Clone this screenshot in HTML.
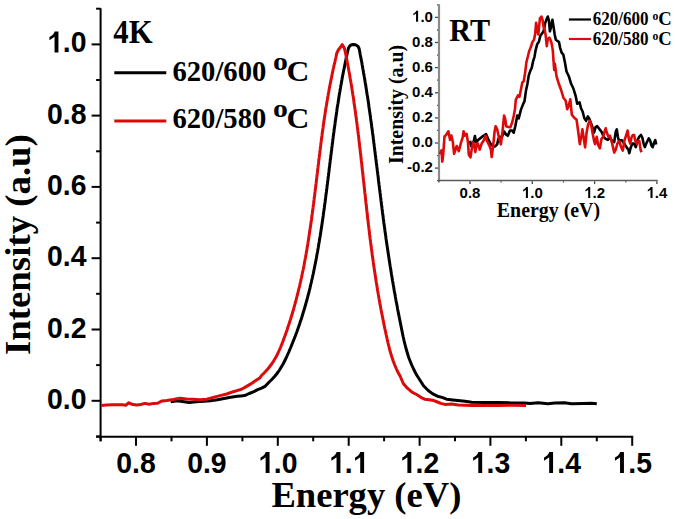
<!DOCTYPE html>
<html><head><meta charset="utf-8"><title>PL spectra</title>
<style>
html,body{margin:0;padding:0;background:#fff;}
body{width:675px;height:519px;overflow:hidden;font-family:"Liberation Sans",sans-serif;}
svg{display:block;}
</style></head><body>
<svg width="675" height="519" viewBox="0 0 675 519">
<rect width="675" height="519" fill="#fff"/>
<g stroke="#000" stroke-width="2.0" fill="none" stroke-linecap="butt">
<line x1="100.6" y1="8.2" x2="100.6" y2="441.3"/>
<line x1="96.1" y1="436.8" x2="633.2" y2="436.8"/>
<line x1="96.1" y1="436.4" x2="100.6" y2="436.4"/>
<line x1="91.6" y1="400.8" x2="100.6" y2="400.8"/>
<line x1="96.1" y1="365.1" x2="100.6" y2="365.1"/>
<line x1="91.6" y1="329.5" x2="100.6" y2="329.5"/>
<line x1="96.1" y1="293.8" x2="100.6" y2="293.8"/>
<line x1="91.6" y1="258.2" x2="100.6" y2="258.2"/>
<line x1="96.1" y1="222.6" x2="100.6" y2="222.6"/>
<line x1="91.6" y1="186.9" x2="100.6" y2="186.9"/>
<line x1="96.1" y1="151.3" x2="100.6" y2="151.3"/>
<line x1="91.6" y1="115.6" x2="100.6" y2="115.6"/>
<line x1="96.1" y1="80.0" x2="100.6" y2="80.0"/>
<line x1="91.6" y1="44.4" x2="100.6" y2="44.4"/>
<line x1="96.1" y1="8.7" x2="100.6" y2="8.7"/>
<line x1="100.6" y1="436.8" x2="100.6" y2="441.3"/>
<line x1="136.0" y1="436.8" x2="136.0" y2="445.8"/>
<line x1="171.5" y1="436.8" x2="171.5" y2="441.3"/>
<line x1="206.9" y1="436.8" x2="206.9" y2="445.8"/>
<line x1="242.4" y1="436.8" x2="242.4" y2="441.3"/>
<line x1="277.8" y1="436.8" x2="277.8" y2="445.8"/>
<line x1="313.2" y1="436.8" x2="313.2" y2="441.3"/>
<line x1="348.7" y1="436.8" x2="348.7" y2="445.8"/>
<line x1="384.1" y1="436.8" x2="384.1" y2="441.3"/>
<line x1="419.6" y1="436.8" x2="419.6" y2="445.8"/>
<line x1="455.0" y1="436.8" x2="455.0" y2="441.3"/>
<line x1="490.4" y1="436.8" x2="490.4" y2="445.8"/>
<line x1="525.9" y1="436.8" x2="525.9" y2="441.3"/>
<line x1="561.3" y1="436.8" x2="561.3" y2="445.8"/>
<line x1="596.8" y1="436.8" x2="596.8" y2="441.3"/>
<line x1="632.2" y1="436.8" x2="632.2" y2="445.8"/>
</g>
<text transform="translate(46.96,408.79) scale(0.9759,1)" font-family="Liberation Sans, sans-serif" font-weight="bold" font-size="29.10">0.0</text>
<text transform="translate(46.96,337.51) scale(0.9759,1)" font-family="Liberation Sans, sans-serif" font-weight="bold" font-size="29.10">0.2</text>
<text transform="translate(46.96,266.23) scale(0.9759,1)" font-family="Liberation Sans, sans-serif" font-weight="bold" font-size="29.10">0.4</text>
<text transform="translate(46.96,194.95) scale(0.9759,1)" font-family="Liberation Sans, sans-serif" font-weight="bold" font-size="29.10">0.6</text>
<text transform="translate(46.96,123.67) scale(0.9759,1)" font-family="Liberation Sans, sans-serif" font-weight="bold" font-size="29.10">0.8</text>
<path d="M828 0L547 0L547 1096Q385 960 177 858L177 1081Q315 1140 415 1240Q515 1340 555 1466L828 1466Z" transform="translate(46.96,52.39) scale(0.01387,-0.01421)"/><text transform="translate(62.75,52.39) scale(0.9759,1)" font-family="Liberation Sans, sans-serif" font-weight="bold" font-size="29.10">.0</text>
<text transform="translate(116.30,472.90) scale(0.9759,1)" font-family="Liberation Sans, sans-serif" font-weight="bold" font-size="29.10">0.8</text>
<text transform="translate(187.18,472.90) scale(0.9759,1)" font-family="Liberation Sans, sans-serif" font-weight="bold" font-size="29.10">0.9</text>
<path d="M828 0L547 0L547 1096Q385 960 177 858L177 1081Q315 1140 415 1240Q515 1340 555 1466L828 1466Z" transform="translate(258.06,472.90) scale(0.01387,-0.01421)"/><text transform="translate(273.85,472.90) scale(0.9759,1)" font-family="Liberation Sans, sans-serif" font-weight="bold" font-size="29.10">.0</text>
<path d="M828 0L547 0L547 1096Q385 960 177 858L177 1081Q315 1140 415 1240Q515 1340 555 1466L828 1466Z" transform="translate(328.94,472.90) scale(0.01387,-0.01421)"/><text transform="translate(344.73,472.90) scale(0.9759,1)" font-family="Liberation Sans, sans-serif" font-weight="bold" font-size="29.10">.</text><path d="M828 0L547 0L547 1096Q385 960 177 858L177 1081Q315 1140 415 1240Q515 1340 555 1466L828 1466Z" transform="translate(352.63,472.90) scale(0.01387,-0.01421)"/>
<path d="M828 0L547 0L547 1096Q385 960 177 858L177 1081Q315 1140 415 1240Q515 1340 555 1466L828 1466Z" transform="translate(399.82,472.90) scale(0.01387,-0.01421)"/><text transform="translate(415.61,472.90) scale(0.9759,1)" font-family="Liberation Sans, sans-serif" font-weight="bold" font-size="29.10">.2</text>
<path d="M828 0L547 0L547 1096Q385 960 177 858L177 1081Q315 1140 415 1240Q515 1340 555 1466L828 1466Z" transform="translate(470.70,472.90) scale(0.01387,-0.01421)"/><text transform="translate(486.49,472.90) scale(0.9759,1)" font-family="Liberation Sans, sans-serif" font-weight="bold" font-size="29.10">.3</text>
<path d="M828 0L547 0L547 1096Q385 960 177 858L177 1081Q315 1140 415 1240Q515 1340 555 1466L828 1466Z" transform="translate(541.58,472.90) scale(0.01387,-0.01421)"/><text transform="translate(557.37,472.90) scale(0.9759,1)" font-family="Liberation Sans, sans-serif" font-weight="bold" font-size="29.10">.4</text>
<path d="M828 0L547 0L547 1096Q385 960 177 858L177 1081Q315 1140 415 1240Q515 1340 555 1466L828 1466Z" transform="translate(612.46,472.90) scale(0.01387,-0.01421)"/><text transform="translate(628.25,472.90) scale(0.9759,1)" font-family="Liberation Sans, sans-serif" font-weight="bold" font-size="29.10">.5</text>
<text transform="translate(271.40,506.90)" font-family="Liberation Serif, serif" font-weight="bold" font-size="36.60">Energy (eV)</text>
<text transform="translate(30.20,355.00) rotate(-90)" font-family="Liberation Serif, serif" font-weight="bold" font-size="36.80">Intensity (a.u)</text>
<text transform="translate(113.34,42.90) scale(0.9370,1)" font-family="Liberation Serif, serif" font-weight="bold" font-size="32.82">4K</text>
<text transform="translate(172.50,80.71) scale(0.9754,1)" font-family="Liberation Serif, serif" font-weight="bold" font-size="29.33">620/600</text>
<text transform="translate(272.91,69.54) scale(1.1429,1)" font-family="Liberation Serif, serif" font-weight="bold" font-size="26.04">o</text>
<text transform="translate(286.42,80.60) scale(1.0692,1)" font-family="Liberation Serif, serif" font-weight="bold" font-size="29.55">C</text>
<text transform="translate(172.50,128.41) scale(0.9754,1)" font-family="Liberation Serif, serif" font-weight="bold" font-size="29.33">620/580</text>
<text transform="translate(272.91,117.24) scale(1.1429,1)" font-family="Liberation Serif, serif" font-weight="bold" font-size="26.04">o</text>
<text transform="translate(286.42,128.30) scale(1.0692,1)" font-family="Liberation Serif, serif" font-weight="bold" font-size="29.55">C</text>
<line x1="114.3" y1="72.8" x2="166.3" y2="72.8" stroke="#000" stroke-width="3"/>
<line x1="114.3" y1="120.9" x2="166.3" y2="120.9" stroke="#dc0a0a" stroke-width="3"/>
<polyline points="170.7,401.8 177.3,400.8 184.0,401.8 189.3,402.5 196.0,401.8 204.0,401.2 210.7,400.8 217.3,399.8 224.0,398.5 230.7,397.2 237.3,396.2 240.8,395.9 244.6,395.6 249.2,393.5 253.9,391.6 257.7,389.7 261.6,388.1 265.4,386.1 269.2,382.0 271.3,380.0 273.2,378.0 275.0,376.0 276.6,374.0 278.1,372.0 279.5,370.0 280.7,368.0 281.9,366.0 283.1,364.0 284.1,362.0 285.1,360.0 286.1,358.0 287.0,356.0 287.9,354.0 288.8,352.0 289.6,350.0 290.5,348.0 291.3,346.0 292.1,344.0 292.9,342.0 293.7,340.0 294.5,338.0 295.3,336.0 296.0,334.0 296.8,332.0 297.5,330.0 298.2,328.0 298.9,326.0 299.6,324.0 300.2,322.0 300.9,320.0 301.6,318.0 302.2,316.0 302.8,314.0 303.4,312.0 304.0,310.0 304.6,308.0 305.2,306.0 305.8,304.0 306.3,302.0 306.9,300.0 307.4,298.0 307.9,296.0 308.5,294.0 309.0,292.0 309.5,290.0 310.0,288.0 310.4,286.0 310.9,284.0 311.4,282.0 311.8,280.0 312.3,278.0 312.7,276.0 313.2,274.0 313.6,272.0 314.0,270.0 314.4,268.0 314.8,266.0 315.2,264.0 315.6,262.0 316.0,260.0 316.4,258.0 316.7,256.0 317.1,254.0 317.5,252.0 317.8,250.0 318.2,248.0 318.5,246.0 318.8,244.0 319.2,242.0 319.5,240.0 319.8,238.0 320.2,236.0 320.5,234.0 320.8,232.0 321.1,230.0 321.4,228.0 321.7,226.0 322.0,224.0 322.3,222.0 322.6,220.0 322.9,218.0 323.2,216.0 323.4,214.0 323.7,212.0 324.0,210.0 324.3,208.0 324.5,206.0 324.8,204.0 325.1,202.0 325.3,200.0 325.6,198.0 325.8,196.0 326.1,194.0 326.4,192.0 326.6,190.0 326.9,188.0 327.1,186.0 327.4,184.0 327.6,182.0 327.9,180.0 328.1,178.0 328.4,176.0 328.6,174.0 328.9,172.0 329.1,170.0 329.3,168.0 329.6,166.0 329.8,164.0 330.1,162.0 330.3,160.0 330.6,158.0 330.8,156.0 331.1,154.0 331.3,152.0 331.6,150.0 331.8,148.0 332.1,146.0 332.3,144.0 332.6,142.0 332.8,140.0 333.1,138.0 333.3,136.0 333.6,134.0 333.9,132.0 334.1,130.0 334.4,128.0 334.7,126.0 335.0,124.0 335.2,122.0 335.5,120.0 335.8,118.0 336.1,116.0 336.4,114.0 336.7,112.0 336.9,110.0 337.2,108.0 337.5,106.0 337.9,104.0 338.2,102.0 338.5,100.0 338.8,98.0 339.1,96.0 339.4,94.0 339.8,92.0 340.1,90.0 340.5,88.0 340.8,86.0 341.2,84.0 341.5,82.0 341.9,80.0 342.2,78.0 342.6,76.0 343.0,74.0 343.4,72.0 343.8,70.0 344.2,68.0 344.6,66.0 345.0,64.0 345.4,62.0 345.8,60.0 346.2,58.0 346.7,56.0 347.1,54.0 347.6,52.0 348.0,50.0 348.5,48.0 349.6,46.2 351.0,45.0 353.0,44.5 355.5,44.8 357.9,46.2 359.1,48.5 359.5,50.5 359.9,52.5 360.2,54.5 360.6,56.5 361.0,58.5 361.4,60.5 361.8,62.5 362.1,64.5 362.5,66.5 362.8,68.5 363.2,70.5 363.5,72.5 363.9,74.5 364.2,76.5 364.6,78.5 364.9,80.5 365.2,82.5 365.6,84.5 365.9,86.5 366.2,88.5 366.5,90.5 366.8,92.5 367.1,94.5 367.5,96.5 367.8,98.5 368.1,100.5 368.4,102.5 368.7,104.5 368.9,106.5 369.2,108.5 369.5,110.5 369.8,112.5 370.1,114.5 370.4,116.5 370.6,118.5 370.9,120.5 371.2,122.5 371.5,124.5 371.7,126.5 372.0,128.5 372.3,130.5 372.5,132.5 372.8,134.5 373.1,136.5 373.3,138.5 373.6,140.5 373.8,142.5 374.1,144.5 374.3,146.5 374.6,148.5 374.8,150.5 375.1,152.5 375.3,154.5 375.6,156.5 375.8,158.5 376.1,160.5 376.3,162.5 376.6,164.5 376.8,166.5 377.1,168.5 377.3,170.5 377.6,172.5 377.8,174.5 378.1,176.5 378.3,178.5 378.5,180.5 378.8,182.5 379.0,184.5 379.3,186.5 379.5,188.5 379.8,190.5 380.0,192.5 380.3,194.5 380.5,196.5 380.8,198.5 381.0,200.5 381.3,202.5 381.5,204.5 381.8,206.5 382.0,208.5 382.3,210.5 382.5,212.5 382.8,214.5 383.1,216.5 383.3,218.5 383.6,220.5 383.8,222.5 384.1,224.5 384.4,226.5 384.7,228.5 384.9,230.5 385.2,232.5 385.5,234.5 385.8,236.5 386.0,238.5 386.3,240.5 386.6,242.5 386.9,244.5 387.2,246.5 387.5,248.5 387.8,250.5 388.1,252.5 388.4,254.5 388.7,256.5 389.0,258.5 389.3,260.5 389.6,262.5 389.9,264.5 390.2,266.5 390.6,268.5 390.9,270.5 391.2,272.5 391.5,274.5 391.9,276.5 392.2,278.5 392.5,280.5 392.9,282.5 393.2,284.5 393.6,286.5 393.9,288.5 394.2,290.5 394.6,292.5 395.0,294.5 395.3,296.5 395.7,298.5 396.0,300.5 396.4,302.5 396.8,304.5 397.2,306.5 397.5,308.5 397.9,310.5 398.3,312.5 398.7,314.5 399.1,316.5 399.5,318.5 399.9,320.5 400.3,322.5 400.7,324.5 401.1,326.5 401.5,328.5 401.9,330.5 402.3,332.5 402.7,334.5 403.1,336.5 403.6,338.5 404.0,340.5 404.5,342.5 405.0,344.5 405.5,346.5 406.0,348.5 406.6,350.5 407.2,352.5 407.8,354.5 408.4,356.5 409.1,358.5 409.9,360.5 410.7,362.5 411.5,364.5 412.4,366.5 413.3,368.5 414.3,370.5 415.3,372.5 416.4,374.5 417.6,376.5 418.9,378.5 420.2,380.5 423.5,385.8 428.2,390.5 432.8,393.9 437.4,396.2 442.0,397.4 446.6,399.2 453.0,399.9 465.0,401.3 471.7,402.2 485.0,402.6 498.3,402.6 511.7,402.9 525.0,402.9 530.0,403.4 538.3,402.7 547.8,403.7 554.9,402.9 564.4,402.8 571.5,403.7 583.3,403.4 591.6,403.3 596.8,403.7" fill="none" stroke="#000" stroke-width="3" stroke-linejoin="round"/>
<polyline points="101.2,405.5 106.5,405.0 111.9,404.7 117.2,404.7 122.5,404.7 125.7,405.3 128.9,402.8 132.1,404.3 136.4,404.9 140.7,404.5 144.9,403.4 149.2,404.2 153.5,403.4 157.7,403.2 162.0,400.9 166.7,400.6 173.3,399.5 180.0,398.2 186.7,398.9 193.3,399.2 200.0,399.7 206.7,399.2 213.3,397.4 220.0,395.6 226.7,394.0 233.3,391.7 237.0,390.6 241.5,389.3 246.2,386.6 250.8,383.9 255.4,380.8 260.0,377.7 261.5,375.5 263.6,373.5 265.5,371.5 267.3,369.5 269.0,367.5 270.5,365.5 272.0,363.5 273.3,361.5 274.5,359.5 275.7,357.5 276.8,355.5 277.8,353.5 278.7,351.5 279.6,349.5 280.5,347.5 281.3,345.5 282.1,343.5 282.9,341.5 283.6,339.5 284.3,337.5 285.1,335.5 285.8,333.5 286.5,331.5 287.2,329.5 287.8,327.5 288.5,325.5 289.2,323.5 289.8,321.5 290.5,319.5 291.1,317.5 291.7,315.5 292.3,313.5 292.9,311.5 293.5,309.5 294.0,307.5 294.6,305.5 295.1,303.5 295.7,301.5 296.2,299.5 296.7,297.5 297.2,295.5 297.8,293.5 298.2,291.5 298.7,289.5 299.2,287.5 299.7,285.5 300.1,283.5 300.6,281.5 301.0,279.5 301.5,277.5 301.9,275.5 302.3,273.5 302.7,271.5 303.2,269.5 303.6,267.5 304.0,265.5 304.3,263.5 304.7,261.5 305.1,259.5 305.5,257.5 305.8,255.5 306.2,253.5 306.5,251.5 306.9,249.5 307.2,247.5 307.5,245.5 307.9,243.5 308.2,241.5 308.5,239.5 308.8,237.5 309.1,235.5 309.4,233.5 309.7,231.5 310.0,229.5 310.3,227.5 310.6,225.5 310.9,223.5 311.2,221.5 311.5,219.5 311.7,217.5 312.0,215.5 312.3,213.5 312.5,211.5 312.8,209.5 313.1,207.5 313.3,205.5 313.6,203.5 313.8,201.5 314.1,199.5 314.3,197.5 314.6,195.5 314.8,193.5 315.1,191.5 315.3,189.5 315.6,187.5 315.8,185.5 316.1,183.5 316.3,181.5 316.5,179.5 316.8,177.5 317.0,175.5 317.3,173.5 317.5,171.5 317.7,169.5 318.0,167.5 318.2,165.5 318.5,163.5 318.7,161.5 318.9,159.5 319.2,157.5 319.4,155.5 319.7,153.5 319.9,151.5 320.2,149.5 320.4,147.5 320.7,145.5 320.9,143.5 321.2,141.5 321.4,139.5 321.7,137.5 322.0,135.5 322.2,133.5 322.5,131.5 322.8,129.5 323.1,127.5 323.3,125.5 323.6,123.5 323.9,121.5 324.2,119.5 324.5,117.5 324.8,115.5 325.1,113.5 325.4,111.5 325.7,109.5 326.0,107.5 326.4,105.5 326.7,103.5 327.0,101.5 327.4,99.5 327.7,97.5 328.1,95.5 328.4,93.5 328.8,91.5 329.1,89.5 329.5,87.5 329.9,85.5 330.3,83.5 330.7,81.5 331.1,79.5 331.5,77.5 331.9,75.5 332.3,73.5 332.7,71.5 333.1,69.5 333.6,67.5 334.0,65.5 334.5,63.5 335.0,61.5 335.4,59.5 335.9,57.5 336.7,53.3 338.3,50.0 340.3,47.3 342.2,44.7 343.3,46.3 344.5,48.5 344.9,50.5 345.4,52.5 345.8,54.5 346.2,56.5 346.6,58.5 347.0,60.5 347.3,62.5 347.7,64.5 348.1,66.5 348.5,68.5 348.8,70.5 349.2,72.5 349.6,74.5 349.9,76.5 350.2,78.5 350.6,80.5 350.9,82.5 351.3,84.5 351.6,86.5 351.9,88.5 352.2,90.5 352.5,92.5 352.8,94.5 353.2,96.5 353.5,98.5 353.8,100.5 354.0,102.5 354.3,104.5 354.6,106.5 354.9,108.5 355.2,110.5 355.5,112.5 355.7,114.5 356.0,116.5 356.3,118.5 356.5,120.5 356.8,122.5 357.1,124.5 357.3,126.5 357.6,128.5 357.8,130.5 358.1,132.5 358.3,134.5 358.6,136.5 358.8,138.5 359.0,140.5 359.3,142.5 359.5,144.5 359.7,146.5 360.0,148.5 360.2,150.5 360.4,152.5 360.7,154.5 360.9,156.5 361.1,158.5 361.3,160.5 361.6,162.5 361.8,164.5 362.0,166.5 362.2,168.5 362.4,170.5 362.7,172.5 362.9,174.5 363.1,176.5 363.3,178.5 363.5,180.5 363.8,182.5 364.0,184.5 364.2,186.5 364.4,188.5 364.6,190.5 364.8,192.5 365.1,194.5 365.3,196.5 365.5,198.5 365.7,200.5 365.9,202.5 366.2,204.5 366.4,206.5 366.6,208.5 366.8,210.5 367.1,212.5 367.3,214.5 367.5,216.5 367.7,218.5 368.0,220.5 368.2,222.5 368.4,224.5 368.7,226.5 368.9,228.5 369.2,230.5 369.4,232.5 369.6,234.5 369.9,236.5 370.1,238.5 370.4,240.5 370.6,242.5 370.9,244.5 371.2,246.5 371.4,248.5 371.7,250.5 372.0,252.5 372.2,254.5 372.5,256.5 372.8,258.5 373.1,260.5 373.3,262.5 373.6,264.5 373.9,266.5 374.2,268.5 374.5,270.5 374.8,272.5 375.1,274.5 375.4,276.5 375.7,278.5 376.0,280.5 376.3,282.5 376.7,284.5 377.0,286.5 377.3,288.5 377.6,290.5 378.0,292.5 378.3,294.5 378.7,296.5 379.0,298.5 379.4,300.5 379.7,302.5 380.1,304.5 380.5,306.5 380.8,308.5 381.2,310.5 381.6,312.5 382.0,314.5 382.4,316.5 382.8,318.5 383.2,320.5 383.6,322.5 384.0,324.5 384.4,326.5 384.8,328.5 385.3,330.5 385.7,332.5 386.1,334.5 386.6,336.5 387.0,338.5 387.5,340.5 387.9,342.5 388.4,344.5 388.9,346.5 389.4,348.5 389.9,350.5 390.5,352.5 391.1,354.5 391.7,356.5 392.4,358.5 393.0,360.5 393.8,362.5 394.5,364.5 395.4,366.5 396.2,368.5 397.1,370.5 398.1,372.5 399.2,374.5 400.3,376.5 403.3,383.5 407.3,388.2 412.0,392.2 416.6,394.5 421.2,397.6 424.7,399.2 429.3,399.8 433.9,400.6 437.4,402.0 440.9,403.4 444.9,404.4 451.7,404.1 458.3,404.9 471.7,405.5 485.0,405.5 498.3,405.5 511.7,405.3 526.0,405.4" fill="none" stroke="#dc0a0a" stroke-width="3" stroke-linejoin="round"/>
<line x1="439.0" y1="4.2" x2="439.0" y2="181.5" stroke="#8a8a8a" stroke-width="2.2"/>
<line x1="437.9" y1="180.55" x2="657.7" y2="180.55" stroke="#5a5a5a" stroke-width="1.6"/>
<g stroke="#444" stroke-width="1.3" fill="none">
<line x1="437.0" y1="180.7" x2="437.9" y2="180.7"/>
<line x1="435.0" y1="168.1" x2="437.9" y2="168.1"/>
<line x1="437.0" y1="155.6" x2="437.9" y2="155.6"/>
<line x1="435.0" y1="143.0" x2="437.9" y2="143.0"/>
<line x1="437.0" y1="130.4" x2="437.9" y2="130.4"/>
<line x1="435.0" y1="117.9" x2="437.9" y2="117.9"/>
<line x1="437.0" y1="105.3" x2="437.9" y2="105.3"/>
<line x1="435.0" y1="92.8" x2="437.9" y2="92.8"/>
<line x1="437.0" y1="80.2" x2="437.9" y2="80.2"/>
<line x1="435.0" y1="67.6" x2="437.9" y2="67.6"/>
<line x1="437.0" y1="55.1" x2="437.9" y2="55.1"/>
<line x1="435.0" y1="42.5" x2="437.9" y2="42.5"/>
<line x1="437.0" y1="30.0" x2="437.9" y2="30.0"/>
<line x1="435.0" y1="17.4" x2="437.9" y2="17.4"/>
<line x1="437.0" y1="4.8" x2="437.9" y2="4.8"/>
<line x1="438.9" y1="181.3" x2="438.9" y2="182.6"/>
<line x1="470.0" y1="181.3" x2="470.0" y2="184.1"/>
<line x1="501.1" y1="181.3" x2="501.1" y2="182.6"/>
<line x1="532.3" y1="181.3" x2="532.3" y2="184.1"/>
<line x1="563.5" y1="181.3" x2="563.5" y2="182.6"/>
<line x1="594.6" y1="181.3" x2="594.6" y2="184.1"/>
<line x1="625.8" y1="181.3" x2="625.8" y2="182.6"/>
<line x1="656.9" y1="181.3" x2="656.9" y2="184.1"/>
</g>
<text transform="translate(407.06,172.43) scale(0.9740,1)" font-family="Liberation Sans, sans-serif" font-weight="bold" font-size="15.40">-0.2</text>
<text transform="translate(412.05,147.31) scale(0.9740,1)" font-family="Liberation Sans, sans-serif" font-weight="bold" font-size="15.40">0.0</text>
<text transform="translate(412.05,122.19) scale(0.9740,1)" font-family="Liberation Sans, sans-serif" font-weight="bold" font-size="15.40">0.2</text>
<text transform="translate(412.05,97.07) scale(0.9740,1)" font-family="Liberation Sans, sans-serif" font-weight="bold" font-size="15.40">0.4</text>
<text transform="translate(412.05,71.95) scale(0.9740,1)" font-family="Liberation Sans, sans-serif" font-weight="bold" font-size="15.40">0.6</text>
<text transform="translate(412.05,46.83) scale(0.9740,1)" font-family="Liberation Sans, sans-serif" font-weight="bold" font-size="15.40">0.8</text>
<path d="M828 0L547 0L547 1096Q385 960 177 858L177 1081Q315 1140 415 1240Q515 1340 555 1466L828 1466Z" transform="translate(412.05,21.71) scale(0.00732,-0.00752)"/><text transform="translate(420.39,21.71) scale(0.9740,1)" font-family="Liberation Sans, sans-serif" font-weight="bold" font-size="15.40">.0</text>
<text transform="translate(459.58,197.90) scale(0.9740,1)" font-family="Liberation Sans, sans-serif" font-weight="bold" font-size="15.40">0.8</text>
<path d="M828 0L547 0L547 1096Q385 960 177 858L177 1081Q315 1140 415 1240Q515 1340 555 1466L828 1466Z" transform="translate(521.88,197.90) scale(0.00732,-0.00752)"/><text transform="translate(530.22,197.90) scale(0.9740,1)" font-family="Liberation Sans, sans-serif" font-weight="bold" font-size="15.40">.0</text>
<path d="M828 0L547 0L547 1096Q385 960 177 858L177 1081Q315 1140 415 1240Q515 1340 555 1466L828 1466Z" transform="translate(584.18,197.90) scale(0.00732,-0.00752)"/><text transform="translate(592.52,197.90) scale(0.9740,1)" font-family="Liberation Sans, sans-serif" font-weight="bold" font-size="15.40">.2</text>
<path d="M828 0L547 0L547 1096Q385 960 177 858L177 1081Q315 1140 415 1240Q515 1340 555 1466L828 1466Z" transform="translate(646.48,197.90) scale(0.00732,-0.00752)"/><text transform="translate(654.82,197.90) scale(0.9740,1)" font-family="Liberation Sans, sans-serif" font-weight="bold" font-size="15.40">.4</text>
<text transform="translate(496.80,216.50) scale(0.9755,1)" font-family="Liberation Serif, serif" font-weight="bold" font-size="20.40">Energy (eV)</text>
<text transform="translate(402.90,164.00) rotate(-90) scale(0.9707,1)" font-family="Liberation Serif, serif" font-weight="bold" font-size="20.45">Intensity (a.u)</text>
<text transform="translate(449.15,40.70) scale(0.9434,1)" font-family="Liberation Serif, serif" font-weight="bold" font-size="32.00">RT</text>
<text transform="translate(592.70,25.22) scale(0.9521,1)" font-family="Liberation Serif, serif" font-weight="bold" font-size="17.93">620/600</text>
<text transform="translate(652.53,20.29) scale(1.0182,1)" font-family="Liberation Serif, serif" font-weight="bold" font-size="11.46">o</text>
<text transform="translate(658.27,25.22) scale(1.0245,1)" font-family="Liberation Serif, serif" font-weight="bold" font-size="18.21">C</text>
<text transform="translate(592.70,45.12) scale(0.9521,1)" font-family="Liberation Serif, serif" font-weight="bold" font-size="17.93">620/580</text>
<text transform="translate(652.53,40.19) scale(1.0182,1)" font-family="Liberation Serif, serif" font-weight="bold" font-size="11.46">o</text>
<text transform="translate(658.27,45.12) scale(1.0245,1)" font-family="Liberation Serif, serif" font-weight="bold" font-size="18.21">C</text>
<line x1="568.9" y1="19.5" x2="591" y2="19.5" stroke="#000" stroke-width="2.2"/>
<line x1="568.9" y1="39" x2="591" y2="39" stroke="#dc0a0a" stroke-width="2.2"/>
<polyline points="470.1,140.8 471.0,146.0 472.3,144.3 473.6,141.7 474.9,136.1 476.2,142.6 478.1,140.0 480.8,137.9 483.4,135.8 486.1,134.2 488.2,139.0 490.9,144.3 493.0,146.4 495.1,146.4 497.2,144.3 498.3,139.0 499.9,136.8 502.0,136.8 504.1,131.5 506.2,134.7 507.8,135.8 510.0,130.5 512.1,130.5 513.7,132.6 515.3,126.2 517.3,115.6 518.7,118.5 520.9,109.9 523.1,104.1 524.5,101.2 525.9,91.1 527.4,83.9 528.8,75.2 530.3,70.9 531.7,68.0 533.2,60.8 534.5,56.8 535.6,50.4 537.2,44.1 538.8,42.0 540.4,35.6 542.0,33.5 543.6,31.3 545.2,22.9 546.8,18.6 547.8,16.5 548.9,20.7 549.9,31.3 551.0,27.1 552.4,19.7 553.6,27.1 554.7,34.5 555.8,39.8 557.4,40.9 559.0,42.0 560.0,47.3 561.6,52.6 563.3,54.6 564.9,62.3 566.5,71.5 568.8,76.2 571.1,83.8 573.4,88.5 575.7,96.2 577.2,103.8 579.5,102.3 581.1,108.5 582.6,111.5 584.3,118.0 586.1,120.9 587.8,116.4 589.3,118.8 590.9,123.0 592.5,127.2 594.1,132.5 595.6,127.2 597.2,126.2 598.8,128.3 600.4,130.4 602.0,132.5 603.6,136.8 605.7,138.9 607.8,139.9 610.0,137.8 612.1,141.0 614.2,142.1 615.8,131.5 616.8,129.4 617.9,136.8 618.9,141.0 620.6,140.2 621.9,140.2 623.7,142.8 625.4,145.4 627.1,148.0 628.4,149.7 629.3,153.2 630.6,148.0 632.3,143.6 634.1,143.6 635.8,147.1 637.5,140.2 639.3,136.7 641.0,135.0 642.3,137.5 643.6,143.6 644.9,147.1 646.2,143.6 647.5,141.0 648.8,138.4 650.1,140.2 651.4,145.4 652.7,147.1 654.0,142.8 655.3,140.2 656.2,144.5" fill="none" stroke="#000" stroke-width="2.6" stroke-linejoin="round"/>
<polyline points="439.4,152.5 440.2,153.0 441.5,150.4 442.3,161.6 443.2,154.7 444.5,136.5 446.2,134.8 448.4,131.3 450.1,140.0 451.4,135.6 452.8,141.7 454.1,153.8 456.7,146.0 458.8,151.2 461.0,142.6 462.7,137.4 463.6,131.3 464.9,135.6 466.6,133.9 467.9,141.7 468.8,154.7 470.5,157.3 471.8,148.6 473.1,142.6 474.4,146.0 475.3,152.1 476.6,144.3 477.6,143.2 479.7,149.6 481.8,143.2 484.0,140.0 485.5,135.8 487.1,141.1 489.3,145.3 490.9,149.6 491.7,157.0 493.0,147.4 494.6,131.5 495.6,126.2 497.2,129.4 498.8,136.8 500.9,144.3 502.5,131.5 504.1,115.6 505.2,118.8 506.2,126.2 508.2,127.0 510.4,127.2 512.3,122.0 513.7,116.0 515.0,109.0 515.8,99.8 518.0,95.4 519.4,96.9 520.9,89.7 522.3,82.4 523.8,81.0 525.2,72.3 526.4,62.2 527.6,57.5 529.2,51.0 530.8,47.3 532.4,42.0 534.0,39.8 535.1,34.5 536.1,22.9 537.2,29.2 538.3,34.5 539.9,18.6 541.4,16.5 542.5,19.7 543.6,27.1 544.6,29.2 545.7,35.6 546.8,46.2 547.8,38.8 549.4,37.7 550.5,39.8 551.5,43.0 552.8,50.4 553.4,59.2 554.2,70.0 554.9,63.8 556.5,76.2 558.8,83.8 561.1,90.0 563.4,97.7 565.7,100.8 567.2,109.2 568.8,105.4 570.3,99.2 571.8,114.6 574.2,117.7 576.6,119.8 578.2,131.5 579.8,144.2 581.4,135.7 582.4,129.4 584.0,140.0 585.1,147.4 586.6,132.5 588.2,124.1 589.8,120.9 591.4,126.2 592.5,132.5 594.1,141.0 595.1,144.2 596.7,136.8 598.3,145.2 599.9,148.4 601.5,138.9 603.1,136.8 604.6,131.5 605.7,128.3 606.8,132.5 608.4,136.8 609.9,135.7 611.5,141.0 613.1,147.4 614.2,152.6 615.8,149.5 617.4,143.5 619.3,141.0 621.1,147.1 622.8,150.6 624.5,140.2 626.3,135.0 627.6,130.6 628.9,139.3 630.2,143.6 631.5,137.5 632.8,135.0 634.1,135.0 635.4,141.0 636.7,143.6 638.0,141.0 639.3,141.0 640.6,149.7 641.5,152.3" fill="none" stroke="#dc0a0a" stroke-width="2.6" stroke-linejoin="round"/>
</svg>
</body></html>
